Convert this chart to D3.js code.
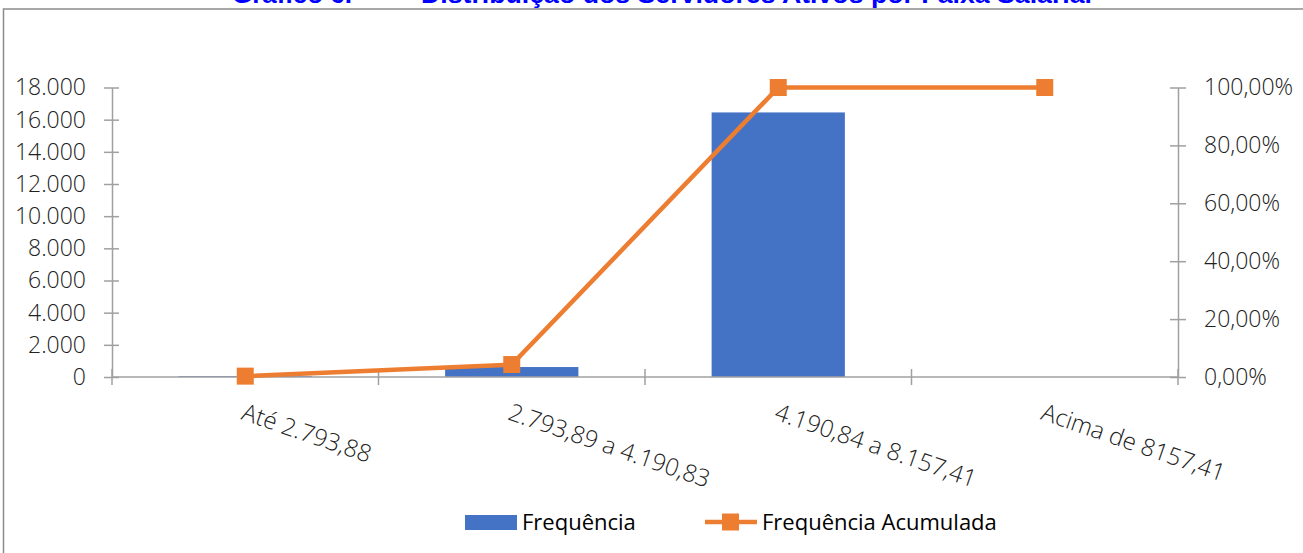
<!DOCTYPE html>
<html><head><meta charset="utf-8">
<script src="https://cdn.jsdelivr.net/npm/d3@7"></script>
<style>
body{margin:0;background:#fff;}
svg{display:block;}
</style></head>
<body>
<svg id="chart" width="1303" height="553"></svg>
<script>
const categories = ["Até 2.793,88", "2.793,89 a 4.190,83", "4.190,84 a 8.157,41", "Acima de 8157,41"];
const frequencia = [50, 620, 16450, 0];
const acumulada = [0.3, 4.3, 100, 100];
const leftTicks = [0, 2000, 4000, 6000, 8000, 10000, 12000, 14000, 16000, 18000];
const rightTicks = [0, 20, 40, 60, 80, 100];
const titleParts = ["Gráfico 6.", "Distribuição dos Servidores Ativos por Faixa Salarial"];
const legendLabels = ["Frequência", "Frequência Acumulada"];

const svg = d3.select("#chart");
const BLUE = "#4472C4", ORANGE = "#ED7D31", AXIS = "#a0a0a0";
const tickFont = "'Open Sans', 'Noto Sans', sans-serif";
const legFont = "'Liberation Sans Narrow', 'Open Sans', sans-serif";
const FS = 23;

// frame
svg.append("path").attr("d", "M3.5,553 L3.5,9 L1303,9").attr("fill", "none").attr("stroke", "#8c8c8c").attr("stroke-width", 1.5);

// title (cut off at top, as in the reference)
svg.append("text").attr("x", 232).attr("y", 3).attr("fill", "#0000ff").attr("font-family", "Arial, 'Liberation Sans', sans-serif")
  .attr("font-weight", "bold").attr("font-size", 26).attr("textLength", 120).attr("lengthAdjust", "spacingAndGlyphs").text(titleParts[0]);
svg.append("text").attr("x", 421).attr("y", 3).attr("fill", "#0000ff").attr("font-family", "Arial, 'Liberation Sans', sans-serif")
  .attr("font-weight", "bold").attr("font-size", 26).attr("textLength", 671).attr("lengthAdjust", "spacingAndGlyphs").text(titleParts[1]);

const x0 = 112, x1 = 1178, yTop = 87.5, yBot = 377;
const x = d3.scaleBand().domain(categories).range([x0, x1]).paddingInner(0.5).paddingOuter(0.25);
const xc = d3.scalePoint().domain(categories).range([x0, x1]).padding(0.5);
const yL = d3.scaleLinear().domain([0, 18000]).range([yBot, yTop]);
const yR = d3.scaleLinear().domain([0, 100]).range([yBot, yTop]);

// bars
svg.append("g").selectAll("rect").data(frequencia).join("rect")
  .attr("x", (d, i) => x(categories[i])).attr("width", x.bandwidth())
  .attr("y", d => yL(d)).attr("height", d => yBot - yL(d)).attr("fill", BLUE);

// left axis
const gL = svg.append("g").attr("transform", `translate(${x0},0)`)
  .call(d3.axisLeft(yL).tickValues(leftTicks).tickSize(0).tickPadding(26)
    .tickFormat(d => d3.format(",")(d).replace(/,/g, ".")));
gL.select(".domain").attr("stroke", AXIS).attr("stroke-width", 1.5);
gL.selectAll(".tick").append("line").attr("x1", -8).attr("x2", 7).attr("stroke", AXIS).attr("stroke-width", 1.5);
gL.selectAll("text").attr("font-family", tickFont).attr("font-size", FS).attr("fill", "#222").attr("font-weight", 300);

// right axis
const gR = svg.append("g").attr("transform", `translate(${x1},0)`)
  .call(d3.axisRight(yR).tickValues(rightTicks).tickSize(0).tickPadding(26)
    .tickFormat(d => d3.format(".2f")(d).replace(".", ",") + "%"));
gR.select(".domain").attr("stroke", AXIS).attr("stroke-width", 1.5);
gR.selectAll(".tick").append("line").attr("x1", -8).attr("x2", 8).attr("stroke", AXIS).attr("stroke-width", 1.5);
gR.selectAll("text").attr("font-family", tickFont).attr("font-size", FS).attr("fill", "#222").attr("font-weight", 300);

// x axis
const gX = svg.append("g").attr("transform", `translate(0,${yBot})`);
gX.append("line").attr("x1", x0).attr("x2", x1).attr("stroke", AXIS).attr("stroke-width", 1.5);
const bounds = d3.range(categories.length + 1).map(i => x0 + i * (x1 - x0) / categories.length);
gX.selectAll("line.t").data(bounds).join("line").attr("class", "t")
  .attr("x1", d => d).attr("x2", d => d).attr("y1", -8).attr("y2", 8).attr("stroke", AXIS).attr("stroke-width", 1.5);
gX.selectAll("text").data(categories).join("text")
  .attr("transform", d => `translate(${xc(d) - 5},42) rotate(19)`)
  .attr("font-family", tickFont).attr("font-size", 24).attr("font-weight", 300).attr("fill", "#222")
  .text(d => d);

// line
const line = d3.line().x((d, i) => xc(categories[i])).y(d => yR(d));
svg.append("path").datum(acumulada).attr("d", line).attr("fill", "none").attr("stroke", ORANGE).attr("stroke-width", 4.5);
svg.append("g").selectAll("rect").data(acumulada).join("rect")
  .attr("x", (d, i) => xc(categories[i]) - 8.5).attr("y", d => yR(d) - 8.5)
  .attr("width", 17).attr("height", 17).attr("fill", ORANGE);

// legend
const ly = 522;
svg.append("rect").attr("x", 465).attr("y", ly - 7).attr("width", 52).attr("height", 15).attr("fill", BLUE);
svg.append("text").attr("x", 522).attr("y", ly + 8).attr("font-family", legFont).attr("font-size", 22).attr("fill", "#000").text(legendLabels[0]);
svg.append("line").attr("x1", 705).attr("x2", 757).attr("y1", ly).attr("y2", ly).attr("stroke", ORANGE).attr("stroke-width", 4.5);
svg.append("rect").attr("x", 722).attr("y", ly - 8.5).attr("width", 17).attr("height", 17).attr("fill", ORANGE);
svg.append("text").attr("x", 762).attr("y", ly + 8).attr("font-family", legFont).attr("font-size", 22).attr("fill", "#000").text(legendLabels[1]);
</script>
</body></html>
